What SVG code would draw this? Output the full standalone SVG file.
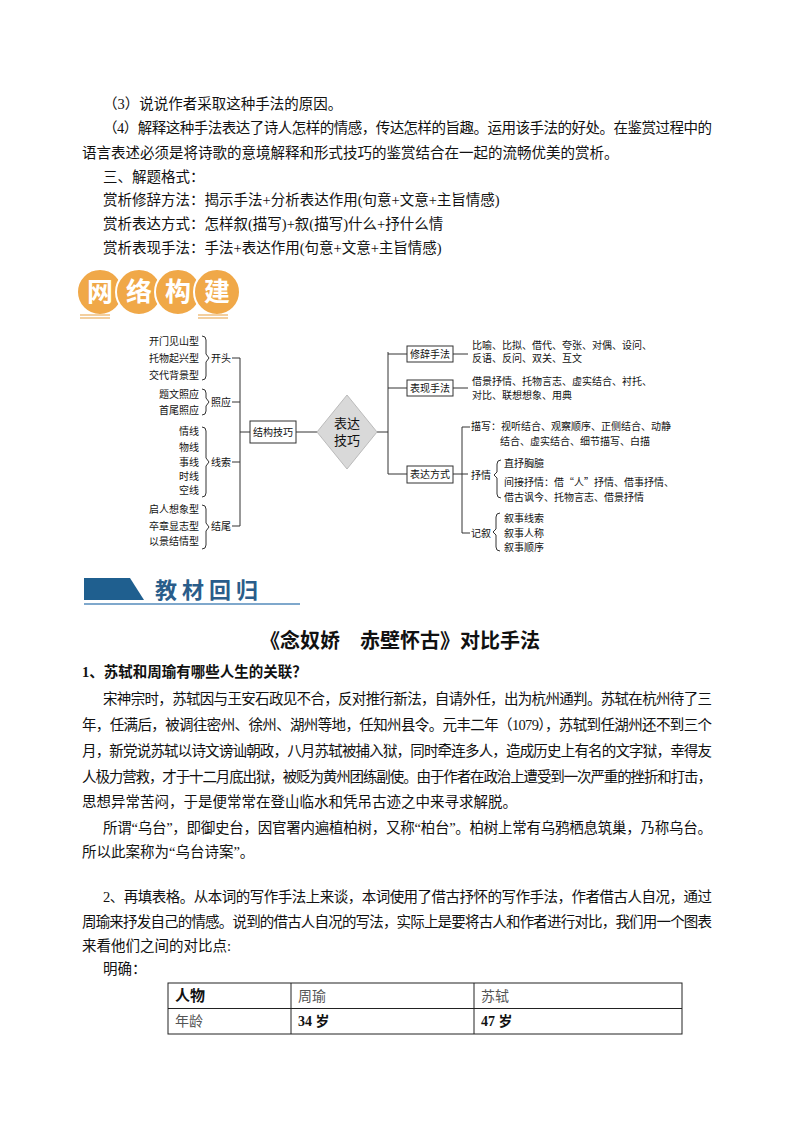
<svg xmlns="http://www.w3.org/2000/svg" width="800" height="1132" viewBox="0 0 800 1132">
<style>
text{font-family:"Liberation Serif","Noto Sans CJK SC",serif;fill:#111}
.b{font-size:14.5px}
.m{font-size:10px;font-family:"Noto Sans CJK SC",serif}
.ln{stroke:#333;stroke-width:1;fill:none}
.bx{fill:#fff;stroke:#333;stroke-width:1}
</style>
<rect width="800" height="1132" fill="#fff"/>
<g id="top-text" class="b">
<text x="103" y="109" class="b">（3）说说作者采取这种手法的原因。</text>
<text x="103" y="133" class="b" textLength="609" lengthAdjust="spacing">（4）解释这种手法表达了诗人怎样的情感，传达怎样的旨趣。运用该手法的好处。在鉴赏过程中的</text>
<text x="82" y="158" class="b">语言表述必须是将诗歌的意境解释和形式技巧的鉴赏结合在一起的流畅优美的赏析。</text>
<text x="103" y="182" class="b">三、解题格式：</text>
<text x="103" y="205" class="b">赏析修辞方法：揭示手法+分析表达作用(句意+文意+主旨情感)</text>
<text x="103" y="229" class="b">赏析表达方式：怎样叙(描写)+叙(描写)什么+抒什么情</text>
<text x="103" y="253" class="b">赏析表现手法：手法+表达作用(句意+文意+主旨情感)</text>
</g>
<g id="badge">
<circle cx="100" cy="292" r="23" fill="#f0a848" stroke="#fff" stroke-width="2"/>
<circle cx="139" cy="292" r="23" fill="#f0a848" stroke="#fff" stroke-width="2"/>
<circle cx="178" cy="292" r="23" fill="#f0a848" stroke="#fff" stroke-width="2"/>
<circle cx="217" cy="292" r="23" fill="#f0a848" stroke="#fff" stroke-width="2"/>
<g font-size="26" font-weight="bold" text-anchor="middle">
<text x="100" y="301" style="fill:#fff;font-family:'Noto Sans CJK SC',sans-serif">网</text>
<text x="139" y="301" style="fill:#fff;font-family:'Noto Sans CJK SC',sans-serif">络</text>
<text x="178" y="301" style="fill:#fff;font-family:'Noto Sans CJK SC',sans-serif">构</text>
<text x="217" y="301" style="fill:#fff;font-family:'Noto Sans CJK SC',sans-serif">建</text>
</g>
<path d="M80 315h30M80 318h30M198 315h30M198 318h30" stroke="#f0c080" stroke-width="1.5"/>
</g>
<g id="connectors" class="ln">
<path d="M202 336q4 0 4 4v14l3 4l-3 4v14q0 4-4 4"/>
<path d="M202 389q4 0 4 4v5l3 4l-3 4v5q0 4-4 4"/>
<path d="M202 427q4 0 4 4v27l3 4l-3 4v27q0 4-4 4"/>
<path d="M202 505q4 0 4 4v14l3 4l-3 4v14q0 4-4 4"/>
<path d="M232 358h8M232 402h8M232 462h8M232 526h8M240 358v168M240 432h10M296 432h21M377 432h11M388 352v122M388 354h19M388 388h19M388 474h19M453 354h15M453 388h15M453 474h15M462 427v106M462 427h8M462 533h8"/>
<path d="M501 460q-4 0-4 4v8l-3 3l3 3v16q0 4 4 4"/>
<path d="M500 513q-4 0-4 4v12l-3 3l3 3v12q0 4 4 4"/>
</g>
<g id="left-items" class="m" text-anchor="end">
<text x="199" y="345" class="m">开门见山型</text>
<text x="199" y="362" class="m">托物起兴型</text>
<text x="199" y="379" class="m">交代背景型</text>
<text x="199" y="398" class="m">题文照应</text>
<text x="199" y="414" class="m">首尾照应</text>
<text x="199" y="435" class="m">情线</text>
<text x="199" y="451" class="m">物线</text>
<text x="199" y="466" class="m">事线</text>
<text x="199" y="480" class="m">时线</text>
<text x="199" y="494" class="m">空线</text>
<text x="199" y="513" class="m">启人想象型</text>
<text x="199" y="530" class="m">卒章显志型</text>
<text x="199" y="545" class="m">以景结情型</text>
</g>
<g id="left-cats" class="m">
<text x="211" y="362" class="m">开头</text>
<text x="211" y="406" class="m">照应</text>
<text x="211" y="466" class="m">线索</text>
<text x="211" y="530" class="m">结尾</text>
</g>
<g id="node-jiegou"><rect x="250" y="421" width="46" height="22" class="bx"/><text x="273" y="436" class="m" text-anchor="middle">结构技巧</text></g>
<g id="node-biaoda"><polygon points="347,395 377,432 347,469 317,432" fill="#d9d9d9" stroke="#bbb"/>
<text x="347" y="428" font-size="13" text-anchor="middle" style="font-family:'Noto Sans CJK SC',sans-serif">表达</text>
<text x="347" y="445" font-size="13" text-anchor="middle" style="font-family:'Noto Sans CJK SC',sans-serif">技巧</text></g>
<g id="node-xiuci"><rect x="407" y="346" width="46" height="16" class="bx"/><text x="430" y="358" class="m" text-anchor="middle">修辞手法</text></g>
<g id="node-biaoxian"><rect x="407" y="380" width="46" height="16" class="bx"/><text x="430" y="392" class="m" text-anchor="middle">表现手法</text></g>
<g id="node-fangshi"><rect x="407" y="466" width="46" height="17" class="bx"/><text x="430" y="478" class="m" text-anchor="middle">表达方式</text></g>
<g id="right-items" class="m">
<text x="472" y="349" class="m">比喻、比拟、借代、夸张、对偶、设问、</text>
<text x="472" y="362" class="m">反语、反问、双关、互文</text>
<text x="472" y="385" class="m">借景抒情、托物言志、虚实结合、衬托、</text>
<text x="472" y="399" class="m">对比、联想想象、用典</text>
<text x="471" y="430" class="m">描写：视听结合、观察顺序、正侧结合、动静</text>
<text x="500" y="445" class="m">结合、虚实结合、细节描写、白描</text>
<text x="471" y="479" class="m">抒情</text>
<text x="504" y="467" class="m">直抒胸臆</text>
<text x="504" y="486" class="m">间接抒情：借“人”抒情、借事抒情、</text>
<text x="504" y="501" class="m">借古讽今、托物言志、借景抒情</text>
<text x="471" y="537" class="m">记叙</text>
<text x="504" y="522" class="m">叙事线索</text>
<text x="504" y="537" class="m">叙事人称</text>
<text x="504" y="551" class="m">叙事顺序</text>
</g>
<g id="banner">
<polygon points="84,578 130,578 144,600 84,600" fill="#1f5f8f"/>
<text x="155" y="598" font-size="22" font-weight="bold" letter-spacing="5" style="fill:#2a5d8a;font-family:'Noto Sans CJK SC',serif">教材回归</text>
<line x1="84" y1="604" x2="300" y2="604" stroke="#7fa8cc" stroke-width="2"/>
</g>
<g id="body">
<text x="400" y="648" font-size="20" font-weight="bold" text-anchor="middle" style="font-family:'Noto Sans CJK SC',sans-serif">《念奴娇　赤壁怀古》对比手法</text>
<text x="82" y="677" class="b" font-weight="bold">1、苏轼和周瑜有哪些人生的关联？</text>
<text x="103" y="704" class="b" textLength="609" lengthAdjust="spacing">宋神宗时，苏轼因与王安石政见不合，反对推行新法，自请外任，出为杭州通判。苏轼在杭州待了三</text>
<text x="82" y="730" class="b" textLength="630" lengthAdjust="spacing">年，任满后，被调往密州、徐州、湖州等地，任知州县令。元丰二年（1079），苏轼到任湖州还不到三个</text>
<text x="82" y="756" class="b" textLength="630" lengthAdjust="spacing">月，新党说苏轼以诗文谤讪朝政，八月苏轼被捕入狱，同时牵连多人，造成历史上有名的文字狱，幸得友</text>
<text x="82" y="782" class="b" textLength="630" lengthAdjust="spacing">人极力营救，才于十二月底出狱，被贬为黄州团练副使。由于作者在政治上遭受到一次严重的挫折和打击，</text>
<text x="82" y="807" class="b">思想异常苦闷，于是便常常在登山临水和凭吊古迹之中来寻求解脱。</text>
<text x="103" y="833" class="b" textLength="609" lengthAdjust="spacing">所谓“乌台”，即御史台，因官署内遍植柏树，又称“柏台”。柏树上常有乌鸦栖息筑巢，乃称乌台。</text>
<text x="82" y="857" class="b">所以此案称为“乌台诗案”。</text>
<text x="103" y="902" class="b" textLength="609" lengthAdjust="spacing">2、再填表格。从本词的写作手法上来谈，本词使用了借古抒怀的写作手法，作者借古人自况，通过</text>
<text x="82" y="927" class="b" textLength="630" lengthAdjust="spacing">周瑜来抒发自己的情感。说到的借古人自况的写法，实际上是要将古人和作者进行对比，我们用一个图表</text>
<text x="82" y="951" class="b">来看他们之间的对比点:</text>
<text x="103" y="974" class="b">明确：</text>
</g>
<g id="table">
<rect x="168" y="983" width="514" height="51" fill="none" stroke="#222"/>
<path d="M168 1008.5h514M291 983v51M474 983v51" stroke="#222"/>
<text x="175" y="1001" font-size="15" font-weight="bold" style="font-family:'Noto Sans CJK SC',sans-serif">人物</text>
<text x="298" y="1001" font-size="14" style="fill:#555;font-family:'Noto Sans CJK SC',sans-serif">周瑜</text>
<text x="481" y="1001" font-size="14" style="fill:#555;font-family:'Noto Sans CJK SC',sans-serif">苏轼</text>
<text x="175" y="1026" font-size="14" style="fill:#555;font-family:'Noto Sans CJK SC',sans-serif">年龄</text>
<text x="298" y="1026" font-size="14" font-weight="bold">34 岁</text>
<text x="481" y="1026" font-size="14" font-weight="bold">47 岁</text>
</g>
</svg>
